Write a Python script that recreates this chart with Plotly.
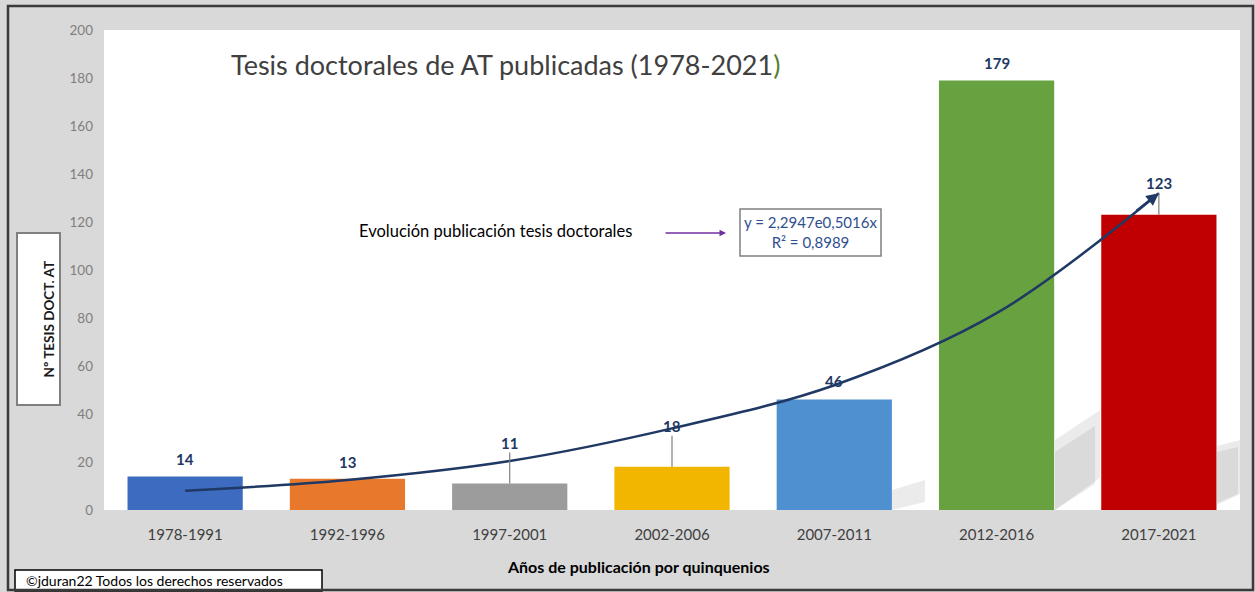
import plotly.graph_objects as go

# ---- data ----
periodos = ["1978-1991", "1992-1996", "1997-2001", "2002-2006", "2007-2011", "2012-2016", "2017-2021"]
tesis = [14, 13, 11, 18, 46, 179, 123]
tendencia = [8, 12.5, 20.4, 34, 52, 82, 132]   # curva de tendencia
y_ticks = [0, 20, 40, 60, 80, 100, 120, 140, 160, 180, 200]

# ---- styles ----
bar_colors = ["#3d6bbf", "#e8792c", "#9c9c9c", "#f2b600", "#4f90d0", "#67a140", "#c00000"]
label_shift = [17, 17, 41, 41, 19, 17, 32]   # px above bar top
leader = [False, False, True, True, False, False, True]
navy = "#1f3864"
FONT = "Lato"

W, H = 1255, 592
L, R, T, B = 104, 15, 30, 82
PW, PH = W - L - R, H - T - B


def px2x(px):
    return (px - L) / PW


def py2y(py):
    return (H - B - py) / PH


def poly(points):
    return "M" + " L".join(f"{px2x(a):.5f},{py2y(b):.5f}" for a, b in points) + " Z"


fig = go.Figure()

annotations = []
shapes = []

# soft drop shadows behind the bars (decoration)
for pts, alpha in [
    ([(1055, 510), (1055, 440), (1100, 410), (1100, 478)], 0.08),
    ([(1055, 510), (1055, 452), (1095, 426), (1095, 484)], 0.07),
    ([(1217, 505), (1217, 446), (1240, 440), (1240, 494)], 0.08),
    ([(1217, 503), (1217, 452), (1238, 447), (1238, 494)], 0.07),
    ([(892, 510), (892, 490), (925, 480), (925, 502)], 0.08),
]:
    shapes.append(dict(type="path", xref="paper", yref="paper", path=poly(pts),
                       fillcolor=f"rgba(0,0,0,{alpha})", line=dict(width=0), layer="below"))

fig.add_trace(go.Bar(
    x=periodos, y=tesis, marker=dict(color=bar_colors, line=dict(width=0)),
    width=0.71, hoverinfo="x+y", showlegend=False,
))

fig.add_trace(go.Scatter(
    x=periodos, y=tendencia, mode="lines",
    line=dict(color=navy, width=2.5, shape="spline", smoothing=1.0),
    hoverinfo="skip", showlegend=False,
))

# data labels
for i, (p, v) in enumerate(zip(periodos, tesis)):
    annotations.append(dict(
        x=p, y=v, xref="x", yref="y", text=f"<b>{v}</b>", showarrow=False,
        yshift=label_shift[i], font=dict(family=FONT, size=15, color=navy),
    ))
    if leader[i]:
        shapes.append(dict(
            type="line", xref="x", yref="y", ysizemode="pixel", yanchor=v,
            x0=p, x1=p, y0=0, y1=label_shift[i] - 10,
            line=dict(color="#7f7f7f", width=1.2), layer="above",
        ))

# arrow head of trend line
annotations.append(dict(
    x=periodos[-1], y=tendencia[-1], xref="x", yref="y", text="", showarrow=True,
    ax=-24, ay=19, axref="pixel", ayref="pixel",
    arrowhead=2, arrowsize=1, arrowwidth=2.5, arrowcolor=navy,
))

# title
annotations.append(dict(
    x=px2x(505), y=py2y(65), xref="paper", yref="paper", showarrow=False,
    yanchor="middle",
    text='Tesis doctorales de AT publicadas (1978-2021<span style="color:#548235">)</span>',
    font=dict(family=FONT, size=27, color="#404040"),
))

# explanatory text + arrow
annotations.append(dict(
    x=px2x(495), y=py2y(231), xref="paper", yref="paper", showarrow=False,
    yanchor="middle", text="Evolución publicación tesis doctorales",
    font=dict(family=FONT, size=16.5, color="#000000"),
))
annotations.append(dict(
    x=px2x(726), y=py2y(233), xref="paper", yref="paper", text="", showarrow=True,
    ax=-62, ay=0, arrowhead=2, arrowsize=1, arrowwidth=1.3, arrowcolor="#7030a0",
))

# equation box
shapes.append(dict(
    type="rect", xref="paper", yref="paper",
    x0=px2x(740), x1=px2x(881), y0=py2y(256), y1=py2y(209),
    fillcolor="white", line=dict(color="#7f7f7f", width=1.5), layer="above",
))
annotations.append(dict(
    x=px2x(810), y=py2y(232), xref="paper", yref="paper", showarrow=False,
    yanchor="middle", text="y = 2,2947e0,5016x<br>R² = 0,8989", align="center",
    font=dict(family=FONT, size=15, color="#2f4f8f"),
))

# y-axis label box
shapes.append(dict(
    type="rect", xref="paper", yref="paper",
    x0=px2x(17), x1=px2x(60), y0=py2y(405), y1=py2y(233),
    fillcolor="white", line=dict(color="#808080", width=2), layer="above",
))
annotations.append(dict(
    x=px2x(38.5), y=py2y(319), xref="paper", yref="paper", showarrow=False,
    yanchor="middle", text="<b>Nº TESIS DOCT. AT</b>", textangle=-90,
    font=dict(family=FONT, size=13.5, color="#1a1a1a"),
))

# x-axis title
annotations.append(dict(
    x=px2x(638), y=py2y(566), xref="paper", yref="paper", showarrow=False,
    yanchor="middle", text="<b>Años de publicación por quinquenios</b>",
    font=dict(family=FONT, size=16, color="#000000"),
))

# copyright box
shapes.append(dict(
    type="rect", xref="paper", yref="paper",
    x0=px2x(15), x1=px2x(322), y0=py2y(591), y1=py2y(570),
    fillcolor="white", line=dict(color="#000000", width=1.5), layer="above",
))
annotations.append(dict(
    x=px2x(24), y=py2y(580), xref="paper", yref="paper", showarrow=False,
    xanchor="left", yanchor="middle", text="©jduran22 Todos los derechos reservados",
    font=dict(family=FONT, size=14, color="#000000"),
))

# outer frame
shapes.append(dict(
    type="rect", xref="paper", yref="paper",
    x0=px2x(8), x1=px2x(1253), y0=py2y(590), y1=py2y(6),
    fillcolor="rgba(0,0,0,0)", line=dict(color="#3a3a3a", width=2.5), layer="above",
))

fig.update_layout(
    width=W, height=H,
    margin=dict(l=L, r=R, t=T, b=B),
    paper_bgcolor="#d9d9d9", plot_bgcolor="#ffffff",
    bargap=0.29,
    font=dict(family=FONT, color="#595959"),
    annotations=annotations, shapes=shapes,
    xaxis=dict(
        showgrid=False, showline=False, zeroline=False, ticks="",
        tickfont=dict(family=FONT, size=15, color="#404040"),
        ticklabelstandoff=14,
    ),
    yaxis=dict(
        range=[0, 200], tickvals=y_ticks, showgrid=False, showline=False,
        zeroline=False, ticks="", tickfont=dict(family=FONT, size=13.5, color="#7f7f7f"),
        ticklabelstandoff=10,
    ),
)

fig.write_html("out.html", config={"displayModeBar": False},
               post_script="document.body.style.margin='0';document.body.style.overflow='hidden';")
